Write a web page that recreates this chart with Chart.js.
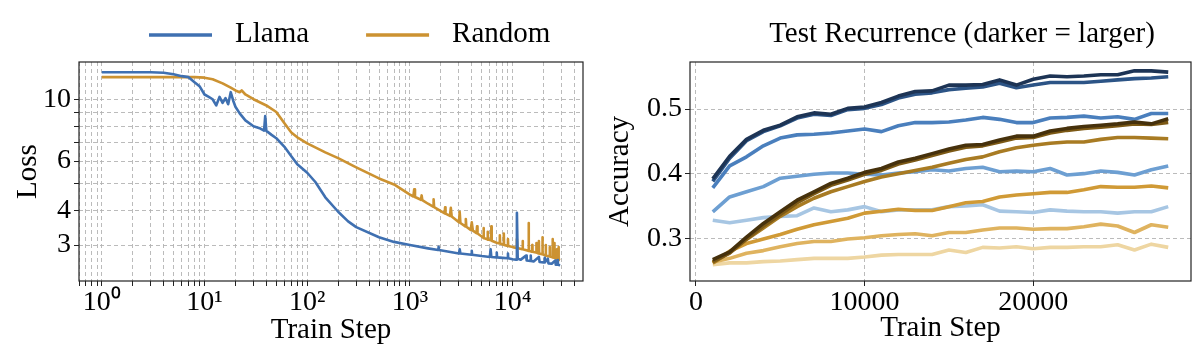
<!DOCTYPE html>
<html>
<head>
<meta charset="utf-8">
<script src="https://cdn.jsdelivr.net/npm/chart.js@4.4.1/dist/chart.umd.min.js"></script>
<style>
  body { margin: 0; background: #fff; }
  #wrap { position: relative; width: 1200px; height: 360px; }
  canvas { position: absolute; top: 0; }
  #loss_chart { left: 0; }
  #acc_chart { left: 600px; }
</style>
</head>
<body>
<div id="wrap">
  <canvas id="loss_chart" width="600" height="360"></canvas>
  <canvas id="acc_chart" width="600" height="360"></canvas>
</div>
<script>
// ---- left panel: training loss, log-log ----
const llamaSteps = [1, 2, 3, 4, 5, 6, 7, 8, 9, 10, 11, 12, 13, 14, 15, 16, 17, 18, 19, 20,
    22, 25, 30, 35, 38, 39, 40, 45, 50, 60, 70, 80, 100, 120, 150, 200, 250, 300, 500, 700,
    1000, 1500, 1880, 1900, 1920, 3000, 3050, 3100, 3970, 4000, 4030, 5000,
    6000, 6100, 6200, 6950, 7000, 7050, 8000, 8950, 9000, 9050,
    10000, 10800, 11000, 11200, 12000, 13500, 13700, 14900, 15000, 15100, 16000, 18000, 18300,
    20000, 20400, 20500, 20600, 22000, 22300, 24000, 26000, 26300, 27400, 27500, 27600, 29000];
const llamaLoss = [12.5, 12.5, 12.5, 12.45, 12.3, 12.1, 12.0, 11.5, 11.1, 10.4, 10.2, 10.0, 9.5, 10.2, 9.7, 10.1, 9.6, 10.6, 9.9, 9.4,
    8.9, 8.4, 8.0, 7.85, 7.72, 8.7, 7.7, 7.45, 7.25, 6.75, 6.25, 5.85, 5.45, 5.05, 4.45, 3.95, 3.65, 3.48, 3.2, 3.08,
    3.0, 2.92, 2.88, 2.96, 2.88, 2.8, 2.9, 2.8, 2.77, 2.86, 2.77, 2.74,
    2.72, 2.9, 2.72, 2.71, 2.82, 2.71, 2.7, 2.69, 2.8, 2.69,
    2.67, 2.66, 3.92, 2.68, 2.66, 2.75, 2.64, 2.63, 2.75, 2.63, 2.62, 2.72, 2.61,
    2.6, 2.6, 2.7, 2.6, 2.68, 2.58, 2.57, 2.64, 2.55, 2.55, 2.65, 2.55, 2.54];

const randomSteps = [1, 5, 8, 10, 12, 15, 18, 20, 22, 23, 25, 30, 40, 50, 60, 70, 80, 100, 150, 200, 300, 500, 700,
    1000, 1080, 1100, 1120, 1280, 1300, 1320, 1500, 1680, 1700, 1720, 2000, 2180, 2200, 2220,
    2450, 2500, 2550, 3000, 3050, 3100, 3460, 3500, 3540, 3900, 4000, 4100, 4450, 4500, 4550,
    5000, 5150, 5200, 5250, 5650, 5700, 5750, 6150, 6200, 6250, 7000, 7450, 7500, 7550,
    8150, 8200, 8250, 8950, 9000, 9050, 10000, 10900, 11000, 11100, 12400, 12500, 12600,
    14200, 14300, 14400, 15400, 15500, 15600, 16900, 17000, 17100, 17900, 18000, 18100,
    19400, 19500, 19600, 20900, 21000, 21100, 22900, 23000, 23100, 24400, 24500, 24600,
    25400, 25500, 25600, 26900, 27000, 27100, 27900, 28000, 28100, 29000];
const randomLoss = [12.0, 12.0, 12.0, 11.95, 11.8, 11.4, 11.0, 10.75, 10.6, 10.75, 10.4, 10.0, 9.5, 9.0, 8.2, 7.6, 7.3, 6.95, 6.45, 6.15, 5.7, 5.2, 4.95,
    4.55, 4.48, 4.75, 4.46, 4.36, 4.52, 4.35, 4.22, 4.12, 4.38, 4.1, 3.97, 3.9, 4.1, 3.89,
    3.82, 4.08, 3.8, 3.62, 3.95, 3.6, 3.5, 3.72, 3.49, 3.4, 3.62, 3.38, 3.31, 3.5, 3.3,
    3.22, 3.19, 3.45, 3.18, 3.15, 3.35, 3.14, 3.12, 3.5, 3.11, 3.06, 3.04, 3.25, 3.04,
    3.01, 3.3, 3.0, 2.98, 3.15, 2.98, 2.95, 2.93, 3.15, 2.93, 2.9, 3.1, 2.9,
    2.86, 3.6, 2.86, 2.84, 3.0, 2.84, 2.82, 3.05, 2.82, 2.8, 3.1, 2.8,
    2.78, 3.2, 2.78, 2.75, 3.0, 2.75, 2.73, 2.95, 2.73, 2.71, 3.15, 2.71,
    2.7, 3.05, 2.7, 2.68, 2.9, 2.68, 2.66, 2.95, 2.66, 2.65];

const lossXGrid = [0.6, 0.7, 0.8, 0.9, 1, 2, 3, 4, 5, 6, 7, 8, 9, 10, 20, 30, 40, 50, 60, 70, 80, 90,
    100, 200, 300, 400, 500, 600, 700, 800, 900, 1000, 2000, 3000, 4000, 5000, 6000, 7000, 8000, 9000,
    10000, 20000, 30000, 40000];
const lossXMajor = [1, 10, 100, 1000, 10000];
const lossXLabels = ['10⁰', '10¹', '10²', '10³', '10⁴'];
const lossYGrid = [3, 4, 5, 6, 7, 8, 9, 10];
const lossYMajor = [3, 4, 6, 10];

// ---- right panel: test accuracy per recurrence ----
const trainSteps = [1000, 2000, 3000, 4000, 5000, 6000, 7000, 8000, 9000, 10000, 11000, 12000, 13000, 14000,
    15000, 16000, 17000, 18000, 19000, 20000, 21000, 22000, 23000, 24000, 25000, 26000, 27000, 28000];
const blue1 = [0.392, 0.427, 0.453, 0.467, 0.475, 0.488, 0.494, 0.492, 0.501, 0.503, 0.510, 0.520, 0.527, 0.528,
    0.537, 0.537, 0.538, 0.545, 0.537, 0.546, 0.551, 0.550, 0.551, 0.553, 0.553, 0.559, 0.559, 0.557];
const blue2 = [0.388, 0.424, 0.451, 0.465, 0.474, 0.486, 0.492, 0.490, 0.499, 0.501, 0.507, 0.517, 0.523, 0.525,
    0.530, 0.532, 0.534, 0.540, 0.533, 0.537, 0.541, 0.541, 0.541, 0.543, 0.545, 0.547, 0.548, 0.550];
const blue3 = [0.378, 0.412, 0.426, 0.443, 0.455, 0.460, 0.461, 0.463, 0.466, 0.469, 0.465, 0.474, 0.479, 0.479,
    0.480, 0.483, 0.487, 0.484, 0.479, 0.479, 0.486, 0.487, 0.489, 0.486, 0.488, 0.484, 0.493, 0.493];
const blue4 = [0.341, 0.364, 0.372, 0.380, 0.393, 0.396, 0.399, 0.401, 0.401, 0.399, 0.398, 0.401, 0.403, 0.406,
    0.404, 0.408, 0.410, 0.403, 0.404, 0.403, 0.408, 0.398, 0.400, 0.404, 0.402, 0.398, 0.406, 0.412];
const blue5 = [0.328, 0.324, 0.328, 0.332, 0.334, 0.335, 0.347, 0.341, 0.344, 0.349, 0.341, 0.344, 0.344, 0.344,
    0.349, 0.350, 0.352, 0.342, 0.341, 0.340, 0.344, 0.342, 0.341, 0.341, 0.339, 0.341, 0.341, 0.349];
const gold1 = [0.267, 0.279, 0.302, 0.323, 0.341, 0.359, 0.372, 0.385, 0.393, 0.402, 0.408, 0.418, 0.424, 0.431,
    0.438, 0.444, 0.445, 0.452, 0.458, 0.458, 0.466, 0.470, 0.473, 0.475, 0.477, 0.480, 0.477, 0.485];
const gold2 = [0.264, 0.277, 0.299, 0.319, 0.337, 0.355, 0.369, 0.382, 0.390, 0.399, 0.405, 0.415, 0.421, 0.428,
    0.435, 0.441, 0.443, 0.449, 0.455, 0.456, 0.463, 0.467, 0.470, 0.472, 0.474, 0.477, 0.476, 0.479];
const gold3 = [0.262, 0.278, 0.298, 0.316, 0.334, 0.349, 0.362, 0.372, 0.380, 0.388, 0.395, 0.400, 0.405, 0.410,
    0.416, 0.422, 0.426, 0.434, 0.440, 0.444, 0.447, 0.449, 0.449, 0.453, 0.456, 0.456, 0.455, 0.454];
const gold4 = [0.262, 0.280, 0.292, 0.299, 0.306, 0.314, 0.321, 0.326, 0.331, 0.339, 0.342, 0.345, 0.343, 0.343,
    0.349, 0.355, 0.357, 0.364, 0.367, 0.369, 0.371, 0.371, 0.375, 0.380, 0.379, 0.379, 0.381, 0.378];
const gold5 = [0.263, 0.269, 0.277, 0.281, 0.287, 0.292, 0.295, 0.295, 0.299, 0.301, 0.304, 0.306, 0.307, 0.304,
    0.309, 0.309, 0.313, 0.316, 0.316, 0.314, 0.315, 0.315, 0.318, 0.322, 0.319, 0.309, 0.321, 0.317];
const gold6 = [0.259, 0.262, 0.262, 0.264, 0.265, 0.267, 0.269, 0.269, 0.269, 0.271, 0.274, 0.275, 0.275, 0.275,
    0.282, 0.278, 0.286, 0.285, 0.287, 0.284, 0.286, 0.286, 0.287, 0.287, 0.290, 0.282, 0.291, 0.286];
const accXTicks = [0, 10000, 20000];
const accYTicks = [0.3, 0.4, 0.5];

const SERIF = "'Liberation Serif', 'Times New Roman', serif";
Chart.defaults.font.family = SERIF;
Chart.defaults.color = '#000';

function zip(xs, ys) {
    return xs.map((x, i) => ({ x: x, y: ys[i] }));
}

function serif(size) {
    return { family: SERIF, size: size };
}

const gridStyle = {
    color: '#b3b3b3',
    lineWidth: 0.9,
    tickColor: '#222',
    tickBorderDash: [],
    tickLength: 5,
    tickWidth: 1
};
// in v4 the dash of the grid lines lives on the border options
const borderStyle = { display: false, dash: [4, 3] };

// frame around the plot area (all four spines)
const boxPlugin = {
    id: 'box',
    afterDraw(chart) {
        const { ctx, chartArea: a } = chart;
        ctx.save();
        ctx.strokeStyle = '#222';
        ctx.lineWidth = 1.2;
        ctx.strokeRect(a.left, a.top, a.right - a.left, a.bottom - a.top);
        ctx.restore();
    }
};

const lossLegend = {
    id: 'lossLegend',
    afterDraw(chart) {
        const ctx = chart.ctx;
        ctx.save();
        ctx.font = '29px ' + SERIF;
        ctx.textBaseline = 'middle';
        let x = 149;
        chart.data.datasets.forEach(ds => {
            ctx.strokeStyle = ds.borderColor;
            ctx.lineWidth = 3.5;
            ctx.beginPath();
            ctx.moveTo(x, 35);
            ctx.lineTo(x + 63, 35);
            ctx.stroke();
            ctx.fillStyle = '#000';
            ctx.fillText(ds.label, x + 86, 34);
            x += 86 + ctx.measureText(ds.label).width + 57;
        });
        ctx.restore();
    }
};

const accTitle = {
    id: 'accTitle',
    afterDraw(chart) {
        const ctx = chart.ctx;
        ctx.save();
        ctx.font = '29px ' + SERIF;
        ctx.textAlign = 'center';
        ctx.textBaseline = 'middle';
        ctx.fillStyle = '#000';
        ctx.fillText('Test Recurrence (darker = larger)', 362, 34);
        ctx.restore();
    }
};

new Chart(document.getElementById('loss_chart'), {
    type: 'line',
    data: {
        datasets: [
            { label: 'Llama', data: zip(llamaSteps, llamaLoss), borderColor: '#3f70b1', borderWidth: 2.6 },
            { label: 'Random', data: zip(randomSteps, randomLoss), borderColor: '#cc9231', borderWidth: 2.6 }
        ]
    },
    options: {
        responsive: false,
        animation: false,
        devicePixelRatio: 1,
        layout: { padding: { top: 62, right: 17, left: 0, bottom: 0 } },
        elements: { point: { radius: 0 }, line: { tension: 0, borderJoinStyle: 'round' } },
        plugins: { legend: { display: false }, tooltip: { enabled: false } },
        scales: {
            x: {
                type: 'logarithmic',
                min: 0.6,
                max: 48400,
                afterBuildTicks: s => { s.ticks = lossXGrid.map(v => ({ value: v })); },
                afterFit: s => { s.height = 79; },
                ticks: {
                    autoSkip: false,
                    maxRotation: 0,
                    padding: 0,
                    font: serif(28),
                    callback: v => {
                        const i = lossXMajor.indexOf(v);
                        return i >= 0 ? lossXLabels[i] : '';
                    }
                },
                grid: gridStyle,
                border: borderStyle,
                title: { display: true, text: 'Train Step', font: serif(29), padding: { top: 0, bottom: 12 } }
            },
            y: {
                type: 'logarithmic',
                min: 2.23,
                max: 13.6,
                afterBuildTicks: s => { s.ticks = lossYGrid.map(v => ({ value: v })); },
                afterFit: s => { s.width = 79; },
                ticks: {
                    autoSkip: false,
                    padding: 3,
                    font: serif(28),
                    callback: v => (lossYMajor.indexOf(v) >= 0 ? String(v) : '')
                },
                grid: gridStyle,
                border: borderStyle,
                title: { display: true, text: 'Loss', font: serif(29), padding: { top: 11, bottom: 0 } }
            }
        }
    },
    plugins: [boxPlugin, lossLegend]
});

const accSeries = [
    { data: blue5, color: '#a7c6e3' },
    { data: blue4, color: '#6d9fd2' },
    { data: blue3, color: '#4a7fbd' },
    { data: blue2, color: '#2c5486' },
    { data: blue1, color: '#1d3455' },
    { data: gold6, color: '#eed6a2' },
    { data: gold5, color: '#dfb35f' },
    { data: gold4, color: '#d09a36' },
    { data: gold3, color: '#a87b23' },
    { data: gold2, color: '#7c5915' },
    { data: gold1, color: '#46310c' }
];

new Chart(document.getElementById('acc_chart'), {
    type: 'line',
    data: {
        datasets: accSeries.map((s, i) => ({
            label: 'series ' + (i + 1),
            data: zip(trainSteps, s.data),
            borderColor: s.color,
            borderWidth: 3.6,
            order: accSeries.length - i
        }))
    },
    options: {
        responsive: false,
        animation: false,
        devicePixelRatio: 1,
        layout: { padding: { top: 62, right: 9, left: 0, bottom: 0 } },
        elements: { point: { radius: 0 }, line: { tension: 0, borderJoinStyle: 'round' } },
        plugins: { legend: { display: false }, tooltip: { enabled: false } },
        scales: {
            x: {
                type: 'linear',
                min: -350,
                max: 29350,
                afterBuildTicks: s => { s.ticks = accXTicks.map(v => ({ value: v })); },
                afterFit: s => { s.height = 79; },
                ticks: { autoSkip: false, maxRotation: 0, padding: 0, font: serif(28), callback: v => String(v) },
                grid: gridStyle,
                border: borderStyle,
                title: { display: true, text: 'Train Step', font: serif(29), padding: { top: 0, bottom: 14 } }
            },
            y: {
                type: 'linear',
                min: 0.234,
                max: 0.5727,
                afterBuildTicks: s => { s.ticks = accYTicks.map(v => ({ value: v })); },
                afterFit: s => { s.width = 90; },
                ticks: { autoSkip: false, padding: 3, font: serif(28), callback: v => v.toFixed(1) },
                grid: gridStyle,
                border: borderStyle,
                title: { display: true, text: 'Accuracy', font: serif(29), padding: { top: 3, bottom: 0 } }
            }
        }
    },
    plugins: [boxPlugin, accTitle]
});
</script>
</body>
</html>
